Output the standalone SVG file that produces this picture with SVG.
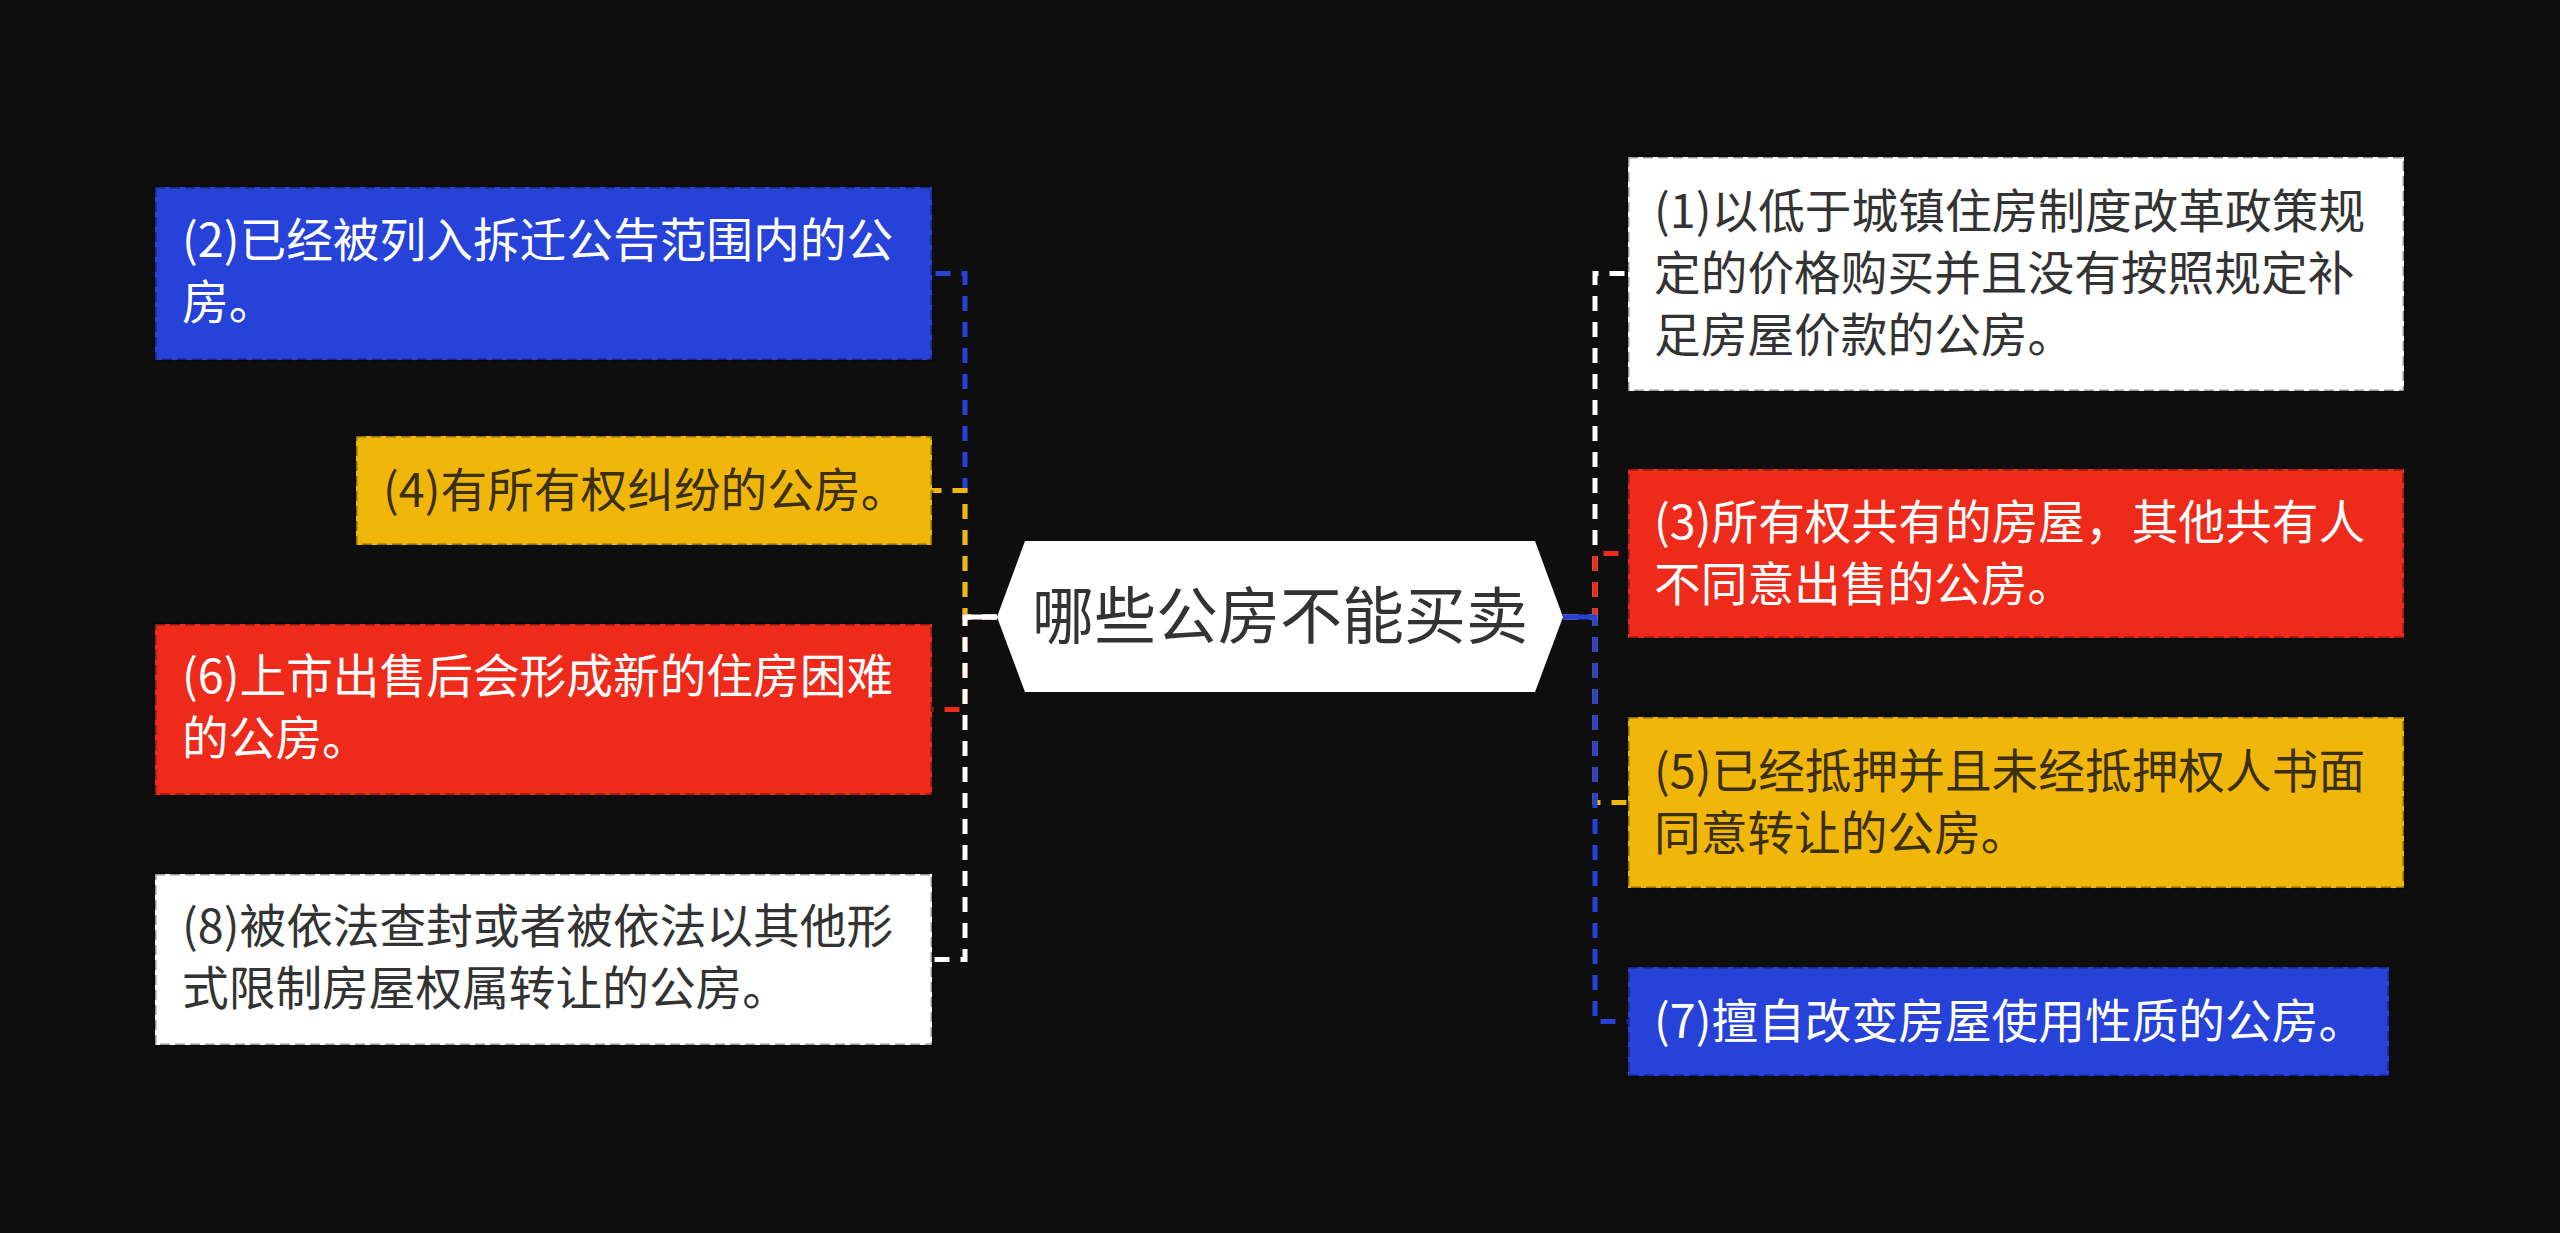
<svg xmlns="http://www.w3.org/2000/svg" width="2560" height="1233" viewBox="0 0 2560 1233">
<style>
.bg{fill:#0e0e0e}
.box{stroke:#000;stroke-opacity:0.4;stroke-width:3;stroke-dasharray:10 5}
.blue{fill:#2642d8}
.red{fill:#ee2a1a}
.yellow{fill:#f0b70a}
.white{fill:#ffffff}
.t{font-family:"Noto Sans CJK SC","Noto Sans",sans-serif;font-size:46.7px}
.tl{fill:#ffffff}
.td{fill:#333333}
.ty{fill:#3a3010}
.title{font-family:"Noto Sans CJK SC","Noto Sans",sans-serif;font-size:62px;fill:#333333}
.c{fill:none;stroke-width:5;stroke-dasharray:15 11}
.cs{fill:none;stroke-width:5}
.sb{stroke:#2642d8}
.sr{stroke:#ee2a1a}
.sy{stroke:#f0b70a}
.sw{stroke:#ffffff}
</style>
<rect class="bg" x="0" y="0" width="2560" height="1233"/>
<g id="connectors">
<path class="c sb" d="M997,617 H965 V273.5 H932"/>
<path class="c sy" d="M997,617 H965 V490.5 H932"/>
<path class="c sr" d="M997,617 H965 V709.5 H932"/>
<path class="c sw" d="M997,617 H965 V959.5 H932"/>
<path class="c sw" d="M1563,617 H1595 V273.5 H1628"/>
<path class="c sr" d="M1563,617 H1595 V553.5 H1628"/>
<path class="c sy" d="M1563,617 H1595 V802.5 H1628"/>
<path class="c sb" d="M1563,617 H1595 V1021.5 H1628"/>
<path class="cs sw" d="M997,617 H965"/>
<path class="cs sb" d="M1563,617 H1595"/>
</g>
<g id="center">
<polygon fill="#ffffff" points="997,617 1025,541 1535,541 1563,617 1535,692 1025,692"/>
<text class="title" x="1280" y="639" text-anchor="middle">哪些公房不能买卖</text>
</g>
<g id="n2">
<rect class="box blue" x="155" y="187" width="777" height="173"/>
<text class="t tl"><tspan x="182" y="257">(2)已经被列入拆迁公告范围内的公</tspan><tspan x="182" y="319">房。</tspan></text>
</g>
<g id="n4">
<rect class="box yellow" x="356" y="436" width="576" height="109"/>
<text class="t ty" x="383" y="507">(4)有所有权纠纷的公房。</text>
</g>
<g id="n6">
<rect class="box red" x="155" y="624" width="777" height="171"/>
<text class="t tl"><tspan x="182" y="693">(6)上市出售后会形成新的住房困难</tspan><tspan x="182" y="755">的公房。</tspan></text>
</g>
<g id="n8">
<rect class="box white" x="155" y="874" width="777" height="171"/>
<text class="t td"><tspan x="182" y="943">(8)被依法查封或者被依法以其他形</tspan><tspan x="182" y="1005">式限制房屋权属转让的公房。</tspan></text>
</g>
<g id="n1">
<rect class="box white" x="1628" y="157" width="776" height="234"/>
<text class="t td"><tspan x="1654" y="228">(1)以低于城镇住房制度改革政策规</tspan><tspan x="1654" y="290">定的价格购买并且没有按照规定补</tspan><tspan x="1654" y="352">足房屋价款的公房。</tspan></text>
</g>
<g id="n3">
<rect class="box red" x="1628" y="469" width="776" height="169"/>
<text class="t tl"><tspan x="1654" y="539">(3)所有权共有的房屋，其他共有人</tspan><tspan x="1654" y="601">不同意出售的公房。</tspan></text>
</g>
<g id="n5">
<rect class="box yellow" x="1628" y="717" width="776" height="171"/>
<text class="t ty"><tspan x="1654" y="788">(5)已经抵押并且未经抵押权人书面</tspan><tspan x="1654" y="850">同意转让的公房。</tspan></text>
</g>
<g id="n7">
<rect class="box blue" x="1628" y="967" width="761" height="109"/>
<text class="t tl" x="1654" y="1038">(7)擅自改变房屋使用性质的公房。</text>
</g>
</svg>
